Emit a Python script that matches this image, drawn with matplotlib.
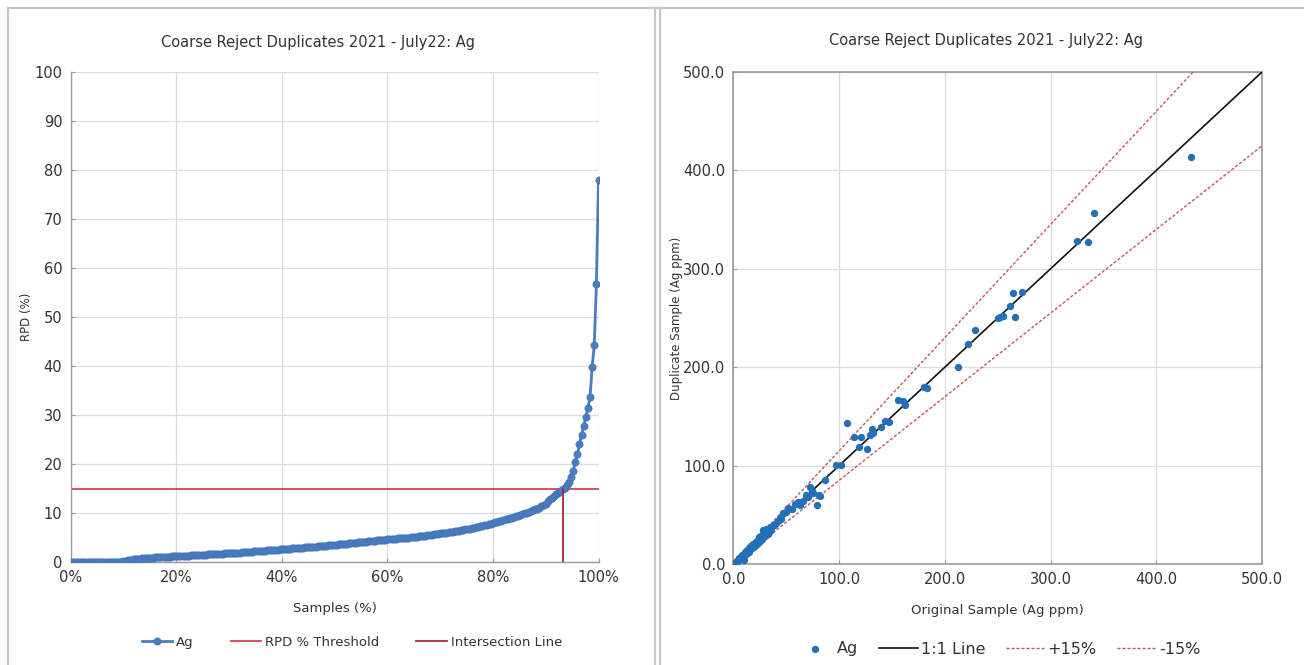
import matplotlib
matplotlib.use("Agg")
import matplotlib.pyplot as plt
from matplotlib.lines import Line2D
import numpy as np

plt.rcParams['font.family'] = ['DejaVu Sans']

TITLE = "Coarse Reject Duplicates 2021 - July22: Ag"

# Sorted relative percent difference (RPD, %) of the duplicate pairs
rpd_values = (
    [0.0] * 23
    + [0.1, 0.2, 0.3, 0.4, 0.45, 0.5, 0.55, 0.6, 0.65, 0.7, 0.72, 0.75, 0.8, 0.85,
       0.88, 0.9, 0.93, 0.95, 0.98, 1.0, 1.02, 1.05, 1.08, 1.1, 1.13, 1.15, 1.18]
    + [1.2, 1.22, 1.25, 1.27, 1.3, 1.32, 1.35, 1.37, 1.4, 1.42, 1.45, 1.47, 1.5,
       1.52, 1.55, 1.57, 1.6, 1.62, 1.65, 1.67, 1.7, 1.72, 1.75, 1.77, 1.8]
    + [1.82, 1.85, 1.88, 1.9, 1.93, 1.96, 2.0, 2.03, 2.06, 2.1, 2.13, 2.16, 2.2,
       2.23, 2.27, 2.3, 2.34, 2.38, 2.42, 2.45, 2.48, 2.52, 2.55, 2.58, 2.6]
    + [2.63, 2.66, 2.7, 2.73, 2.76, 2.8, 2.83, 2.86, 2.9, 2.93, 2.96, 3.0, 3.03,
       3.07, 3.1, 3.14, 3.18, 3.22, 3.26, 3.3, 3.34, 3.38, 3.42, 3.46, 3.5]
    + [3.54, 3.58, 3.62, 3.66, 3.7, 3.75, 3.8, 3.85, 3.9, 3.95, 4.0, 4.04, 4.08,
       4.12, 4.16, 4.2, 4.25, 4.3, 4.35, 4.4, 4.44, 4.48, 4.52, 4.56, 4.6]
    + [4.64, 4.68, 4.72, 4.76, 4.8, 4.84, 4.88, 4.92, 4.96, 5.0, 5.05, 5.1, 5.15,
       5.2, 5.25, 5.3, 5.35, 5.4, 5.46, 5.52, 5.58, 5.64, 5.7, 5.76, 5.82]
    + [5.88, 5.94, 6.0, 6.06, 6.12, 6.18, 6.25, 6.32, 6.4, 6.48, 6.56, 6.64, 6.72,
       6.82, 6.92, 7.02, 7.12, 7.22, 7.32, 7.42, 7.52, 7.62, 7.72, 7.84, 7.96]
    + [8.08, 8.2, 8.32, 8.44, 8.56, 8.68, 8.8, 8.92, 9.05, 9.18, 9.32, 9.46, 9.6,
       9.75, 9.9, 10.05, 10.2, 10.36, 10.54, 10.72, 10.9, 11.1, 11.35, 11.6, 11.9]
    + [12.5, 12.8, 13.1, 13.4, 13.8, 14.1, 14.4, 14.8, 15.2, 15.7, 16.4, 17.3]
    + [18.5, 20.5, 22.0, 24.0, 26.0, 27.8, 29.5, 31.5, 33.7, 39.8, 44.3, 56.8, 78.0]
)
rpd_threshold = 15.0
intersection_pct = 93.3

# Original vs duplicate assays (Ag ppm)
original_ppm = [
    433, 341, 325, 335, 264, 273, 262, 266, 252, 255, 250, 228.5, 222, 212,
    180, 183, 156, 160, 162, 147.5, 143.5, 140, 131, 132, 129, 107, 114, 121,
    119, 126, 97, 102, 86.5, 82, 79.5, 72.5, 74, 71, 69, 75.5, 81, 61.5, 58.5,
    52, 47, 44, 42, 40, 38, 36, 35, 33, 31, 30, 29, 28, 31, 27, 26, 25, 24, 23,
    22, 21, 20, 19, 18, 17, 16, 15, 14, 13, 12, 11, 10, 9, 8, 7, 6, 5, 4, 3,
    2, 1.5, 1, 0.5, 10, 12, 15, 18, 22, 26, 30, 33, 36, 39, 45, 50, 55, 63,
    66, 3, 5, 8, 13, 16, 19, 23, 27, 34, 24, 20,
]
duplicate_ppm = [
    414, 357, 328, 327, 275, 276, 262, 251, 251, 252, 250, 238, 224, 200.5,
    180, 178.5, 166.5, 166, 161.5, 144.5, 145.5, 139.5, 137, 133.5, 131, 143.5,
    129, 129, 119, 116.5, 100.5, 100.5, 85.5, 69, 60, 78.5, 74, 68.5, 70, 72,
    70, 63.5, 61, 56.5, 51.5, 47, 44, 42, 40, 37, 38, 34, 32, 31, 34, 35, 36,
    29, 28, 26, 27, 24, 23, 22, 21, 20, 19, 18, 16, 16, 14, 14, 12, 12, 10, 9,
    8.5, 7, 6, 5.5, 4, 3.5, 2, 1.5, 1, 0.6, 4.5, 10, 12, 16, 20, 24, 28, 30,
    35, 41, 46, 53, 56, 60, 64, 2.5, 6, 9, 11, 17, 17, 22, 25, 33, 22, 18,
]
one_to_one = [0, 500]

BLUE_LINE = "#4A7DC0"
BLUE_DOT = "#2370B8"
RED_THRESH = "#D9404E"
RED_INTERSECT = "#A8283A"
DASH_RED = "#C8555A"
GRID = "#DCDCDC"
SPINE = "#9A9A9A"
TXT = "#333333"

W, H = 1304, 665
fig = plt.figure(figsize=(W / 100, H / 100), dpi=100)


def fx(px):
    return px / W


def fy(py):
    return 1 - py / H


# Panel frames
frame_kw = dict(color="#C6C6C6", lw=1.6, transform=fig.transFigure)
fig.add_artist(Line2D([fx(8), fx(1304)], [fy(7.5), fy(7.5)], **frame_kw))
fig.add_artist(Line2D([fx(8), fx(8)], [fy(7.5), fy(670)], **frame_kw))
fig.add_artist(Line2D([fx(655), fx(655)], [fy(7.5), fy(670)], **frame_kw))
fig.add_artist(Line2D([fx(660), fx(660)], [fy(7.5), fy(670)], **frame_kw))

# ---------- Left: sorted RPD curve ----------
axL = fig.add_axes([fx(70.7), fy(562), fx(598.5) - fx(70.7), fy(72) - fy(562)])
n = len(rpd_values)
sample_pct = [(i + 1) / n * 100 for i in range(n)]
axL.plot(sample_pct, rpd_values, color=BLUE_LINE, lw=2.0, marker="o",
         markersize=5.2, markerfacecolor=BLUE_LINE, markeredgecolor="#4273B5",
         markeredgewidth=0.5, zorder=3, label="Ag")
axL.plot([0, 100], [rpd_threshold, rpd_threshold], color=RED_THRESH, lw=1.3,
         zorder=2, label="RPD % Threshold")
axL.plot([intersection_pct, intersection_pct], [0, rpd_threshold],
         color=RED_INTERSECT, lw=1.3, zorder=4, label="Intersection Line")
axL.set_xlim(0, 100)
axL.set_ylim(0, 100)
axL.set_xticks(range(0, 101, 20))
axL.set_xticklabels([f"{v}%" for v in range(0, 101, 20)])
axL.set_yticks(range(0, 101, 10))
axL.grid(True, color=GRID, lw=0.9)
axL.set_axisbelow(True)
for s in ("top", "right"):
    axL.spines[s].set_visible(False)
for s in ("left", "bottom"):
    axL.spines[s].set_color(SPINE)
    axL.spines[s].set_linewidth(1.0)
axL.tick_params(direction="in", length=3, color=SPINE, labelsize=10.5,
                labelcolor=TXT, pad=6)
axL.set_xlabel("Samples (%)", fontsize=9.5, color=TXT, labelpad=12)
axL.set_ylabel("RPD (%)", fontsize=8.5, color=TXT, labelpad=1)
fig.text(fx(318), fy(42), TITLE, ha="center", va="center", fontsize=10.5,
         color=TXT)
hL, lL = axL.get_legend_handles_labels()
fig.legend(hL, lL, loc="center", bbox_to_anchor=(fx(352), fy(642.5)), ncol=3,
           frameon=False, fontsize=9.5, handlelength=2.3, handletextpad=0.3,
           columnspacing=2.8, labelcolor=TXT)

# ---------- Right: duplicate scatter ----------
axR = fig.add_axes([fx(733.4), fy(564), fx(1262) - fx(733.4), fy(72) - fy(564)])
axR.scatter(original_ppm, duplicate_ppm, s=28, color=BLUE_DOT, zorder=4,
            linewidths=0, label="Ag")
xs = np.array(one_to_one, dtype=float)
axR.plot(xs, xs, color="#111111", lw=1.2, zorder=3, label="1:1 Line")
axR.plot(xs, xs * 1.15, color=DASH_RED, lw=1.0, ls=(0, (2.2, 1.4)), zorder=3,
         label="+15%")
axR.plot(xs, xs * 0.85, color=DASH_RED, lw=1.0, ls=(0, (2.2, 1.4)), zorder=3,
         label="-15%")
axR.set_xlim(0, 500)
axR.set_ylim(0, 500)
ticks = list(range(0, 501, 100))
axR.set_xticks(ticks)
axR.set_yticks(ticks)
axR.set_xticklabels([f"{v:.1f}" for v in ticks])
axR.set_yticklabels([f"{v:.1f}" for v in ticks])
axR.grid(True, color=GRID, lw=0.9)
axR.set_axisbelow(True)
for s in axR.spines.values():
    s.set_color(SPINE)
    s.set_linewidth(1.2)
axR.tick_params(direction="in", length=3, color=SPINE, labelsize=10.5,
                labelcolor=TXT, pad=6)
axR.set_xlabel("Original Sample (Ag ppm)", fontsize=9.5, color=TXT, labelpad=12)
axR.set_ylabel("Duplicate Sample (Ag ppm)", fontsize=8.5, color=TXT,
               labelpad=0)
fig.text(fx(985.6), fy(40), TITLE, ha="center", va="center", fontsize=10.5,
         color=TXT)
hR, lR = axR.get_legend_handles_labels()
fig.legend(hR, lR, loc="center", bbox_to_anchor=(fx(998), fy(649)), ncol=4,
           frameon=False, fontsize=11.5, handlelength=2.4, handletextpad=0.2,
           columnspacing=1.3, labelcolor=TXT, scatterpoints=1)

fig.savefig("out.png", dpi=100, facecolor="white")
